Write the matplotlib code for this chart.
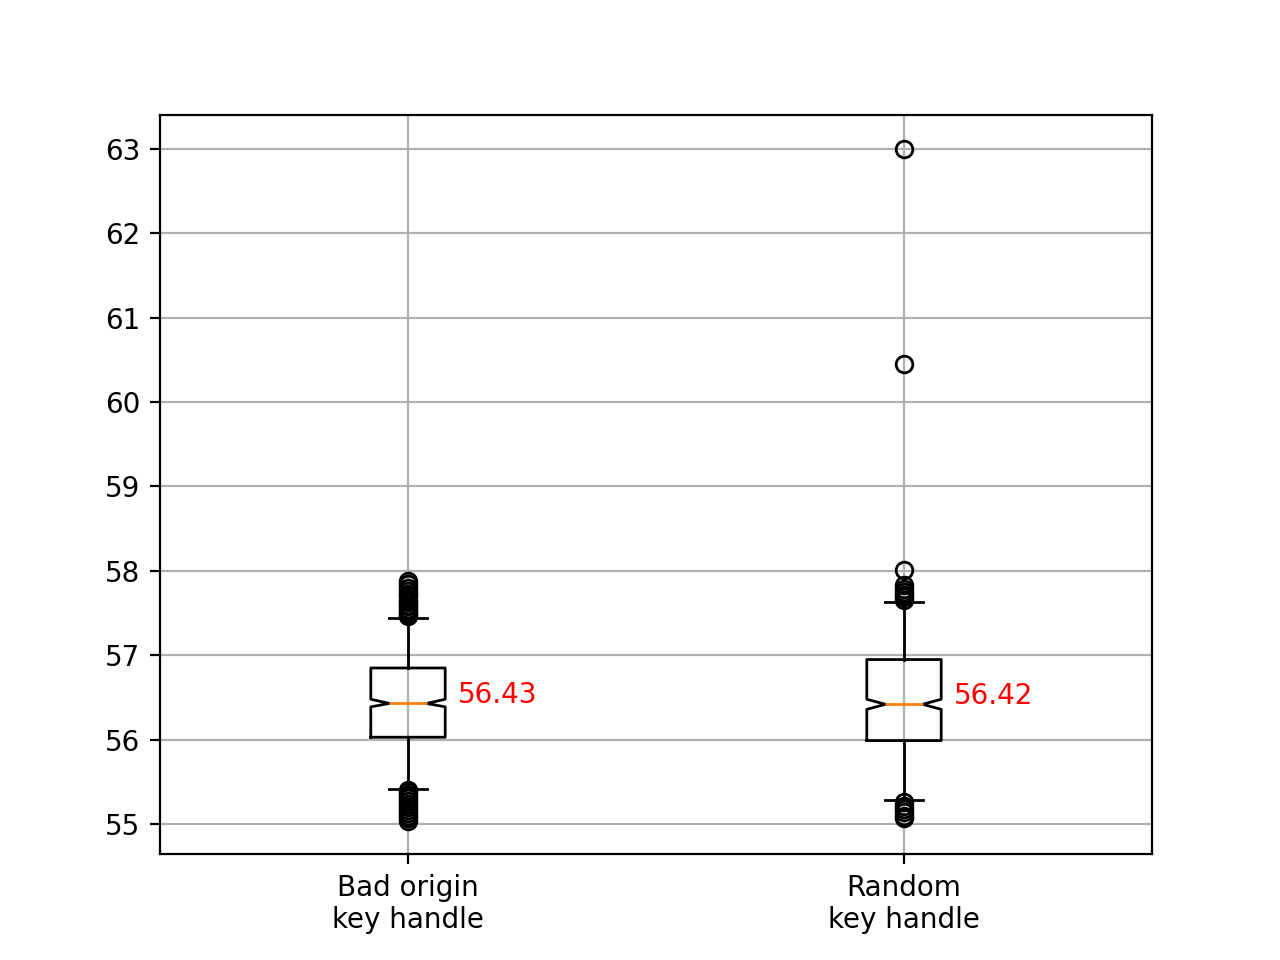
import matplotlib
matplotlib.use("Agg")
import matplotlib.pyplot as plt

labels = ["Bad origin\nkey handle", "Random\nkey handle"]
medians = [56.43, 56.42]
q1 = [56.03, 55.99]
q3 = [56.85, 56.95]
whislo = [55.42, 55.29]
whishi = [57.44, 57.63]
cilo = [56.39, 56.36]
cihi = [56.48, 56.48]
fliers_bad = [55.04, 55.07, 55.10, 55.13, 55.17, 55.20, 55.24, 55.28, 55.31, 55.35, 55.38, 55.41,
              57.46, 57.48, 57.50, 57.52, 57.55, 57.58, 57.60, 57.63, 57.66, 57.70, 57.73, 57.76,
              57.80, 57.84, 57.88]
fliers_random = [55.07, 55.10, 55.14, 55.18, 55.22, 55.26,
                 57.66, 57.69, 57.72, 57.75, 57.79, 57.83, 58.01, 60.45, 63.0]
fliers = [fliers_bad, fliers_random]

stats = []
for i in range(len(labels)):
    stats.append(dict(med=medians[i], q1=q1[i], q3=q3[i], whislo=whislo[i], whishi=whishi[i],
                      cilo=cilo[i], cihi=cihi[i], fliers=fliers[i], label=labels[i]))

fig, ax = plt.subplots(figsize=(6.4, 4.8), dpi=200)
ax.bxp(stats, shownotches=True)
for i, m in enumerate(medians):
    ax.text(i + 1 + 0.1, m, f"{m:.2f}", color="red")
ax.grid(True)
fig.savefig("out.png")
